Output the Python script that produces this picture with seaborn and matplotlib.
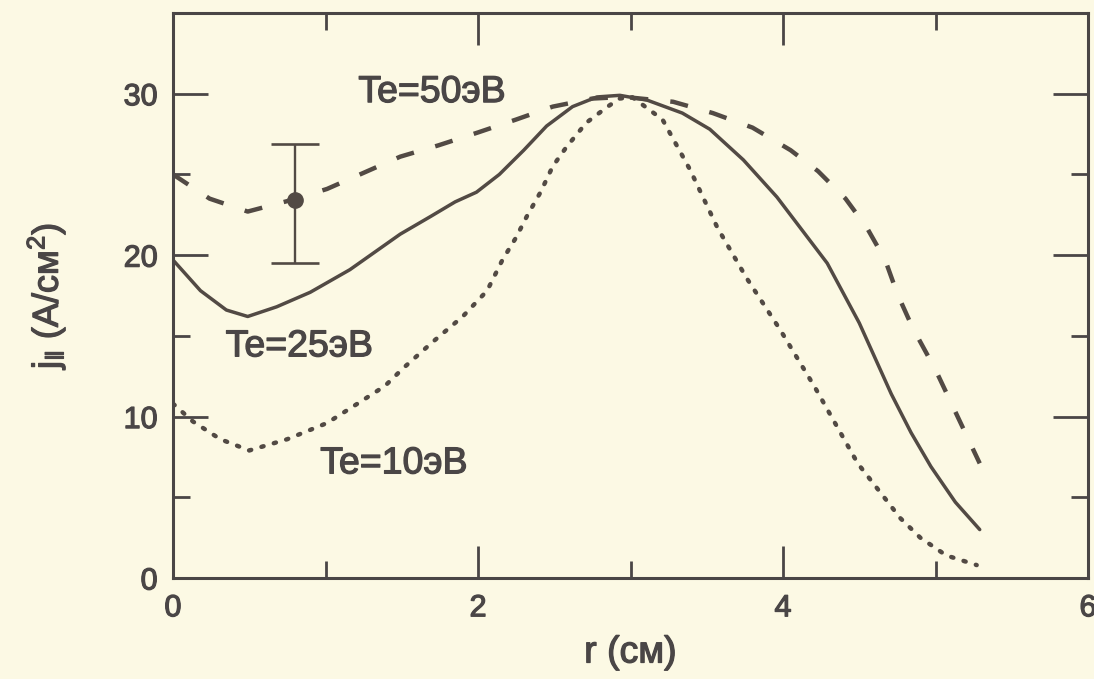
import seaborn as sns
import matplotlib.pyplot as plt
import matplotlib.patheffects as pe
from matplotlib.ticker import MultipleLocator

# Te = 25 эВ (сплошная)
r_25 = [0.00, 0.18, 0.35, 0.49, 0.68, 0.90, 1.16, 1.49, 1.69, 1.85, 1.99, 2.14, 2.30,
        2.45, 2.62, 2.78, 2.93, 3.11, 3.34, 3.52, 3.74, 3.96, 4.29, 4.50, 4.71, 4.84,
        4.97, 5.13, 5.29]
j_25 = [19.7, 17.8, 16.6, 16.2, 16.8, 17.7, 19.1, 21.3, 22.4, 23.3, 23.9, 25.0, 26.5,
        28.0, 29.2, 29.8, 29.9, 29.6, 28.8, 27.8, 25.9, 23.6, 19.5, 15.8, 11.4, 9.0,
        6.9, 4.7, 3.0]

# Te = 50 эВ (штриховая)
r_50 = [0.00, 0.24, 0.49, 0.77, 1.01, 1.25, 1.49, 1.74, 2.00, 2.25, 2.49, 2.75, 2.96,
        3.28, 3.54, 3.80, 4.05, 4.23, 4.41, 4.55, 4.67, 4.75, 4.85, 5.00, 5.13, 5.29]
j_50 = [25.0, 23.5, 22.7, 23.4, 24.1, 25.1, 26.1, 26.8, 27.6, 28.4, 29.2, 29.7, 29.8,
        29.5, 28.8, 27.9, 26.5, 25.2, 23.5, 21.7, 19.7, 17.6, 15.5, 12.9, 10.3, 7.1]

# Te = 10 эВ (пунктир)
r_10 = [0.00, 0.13, 0.31, 0.50, 0.75, 1.01, 1.21, 1.39, 1.51, 1.70, 1.90, 2.06, 2.16,
        2.25, 2.32, 2.41, 2.49, 2.58, 2.71, 2.85, 2.93, 3.01, 3.21, 3.39, 3.57, 3.76,
        3.98, 4.21, 4.49, 4.77, 4.90, 5.07, 5.27]
j_10 = [10.8, 9.7, 8.6, 7.9, 8.6, 9.6, 10.8, 11.9, 13.0, 14.6, 16.2, 17.8, 19.7,
        21.1, 22.4, 23.9, 25.5, 26.7, 28.2, 29.2, 29.7, 29.8, 28.4, 25.3, 21.7, 18.6,
        15.4, 11.8, 7.1, 3.7, 2.5, 1.4, 0.8]

# экспериментальная точка
r_exp = [0.80]
j_exp = [23.4]
j_err_low = [3.9]
j_err_high = [3.5]

labels = ['Te=50эВ', 'Te=25эВ', 'Te=10эВ']
label_pos = [(1.70, 30.1), (0.83, 14.35), (1.45, 7.1)]

bg = '#fcf9e4'
ink = '#524a44'
frame = '#4a4646'

sns.set_theme(style='ticks')
plt.rcParams['font.family'] = ['Liberation Sans', 'DejaVu Sans']
plt.rcParams['mathtext.fontset'] = 'custom'
plt.rcParams['mathtext.rm'] = 'Liberation Sans'
plt.rcParams['mathtext.default'] = 'regular'

fig = plt.figure(figsize=(10.94, 6.79), dpi=100, facecolor=bg)
ax = fig.add_axes([173 / 1094, 1 - 578 / 679, 915 / 1094, 565 / 679])
ax.set_facecolor(bg)

sns.lineplot(x=r_25, y=j_25, ax=ax, sort=False, color=ink, lw=2.5)
sns.lineplot(x=r_50, y=j_50, ax=ax, sort=False, color=ink, lw=3.2,
             linestyle=(0, (4.1, 5.0)))
sns.lineplot(x=r_10, y=j_10, ax=ax, sort=False, color=ink, lw=3.2,
             linestyle=(0, (0.5, 2.4)), dash_capstyle='round')

ax.errorbar(r_exp, j_exp, yerr=[j_err_low, j_err_high], fmt='o', color=ink,
            ms=11, elinewidth=1.7, capsize=17, capthick=1.9)

thick = [pe.withStroke(linewidth=0.9, foreground=frame)]
for txt, (x, y) in zip(labels, label_pos):
    ax.text(x, y, txt, fontsize=27, color=frame, ha='center', va='center',
            path_effects=thick)

ax.set_xlim(0, 6)
ax.set_ylim(0, 35)
ax.xaxis.set_major_locator(MultipleLocator(2))
ax.xaxis.set_minor_locator(MultipleLocator(1))
ax.yaxis.set_major_locator(MultipleLocator(10))
ax.yaxis.set_minor_locator(MultipleLocator(5))
ax.tick_params(which='both', direction='in', top=True, right=True,
               color=frame, width=2.0, labelcolor=frame, labelsize=22)
ax.tick_params(axis='x', which='major', length=23, pad=11)
ax.tick_params(axis='y', which='major', length=25, pad=11)
ax.tick_params(which='minor', length=12)
for lab in ax.get_xticklabels() + ax.get_yticklabels():
    lab.set_path_effects(thick)

for s in ax.spines.values():
    s.set_linewidth(2.2)
    s.set_color(frame)

ax.set_xlabel('r (см)', fontsize=27, color=frame, path_effects=thick)
ax.set_ylabel(r'j$_{\|}$ (A/см$^{2}$)', fontsize=26, color=frame, path_effects=thick)
ax.xaxis.set_label_coords(0.5, -0.1)
ax.yaxis.set_label_coords(-0.115, 0.5)

fig.savefig('out.png', dpi=100, facecolor=bg)
